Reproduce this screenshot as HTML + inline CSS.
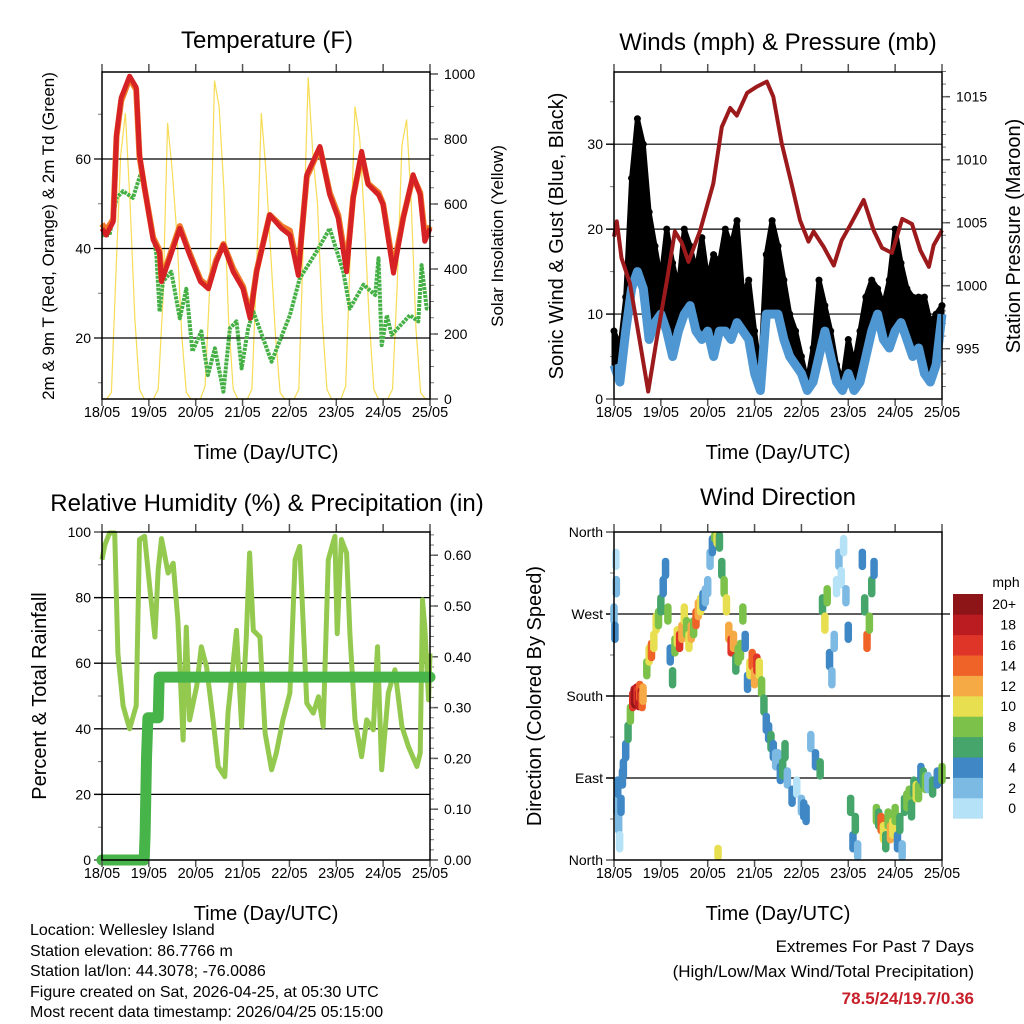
<!DOCTYPE html>
<html><head><meta charset="utf-8">
<style>
html,body{margin:0;padding:0;background:#fff;}
svg{display:block;font-family:"Liberation Sans",Arial,sans-serif;}
</style></head>
<body>
<svg id="chart" width="1024" height="1024" viewBox="0 0 1024 1024" xmlns="http://www.w3.org/2000/svg">
<rect width="1024" height="1024" fill="#fff"/>
<g id="p1"></g>
<g id="p2"></g>
<g id="p3"></g>
<g id="p4"></g>
<g font-size="16" fill="#000">
<text x="30" y="935">Location: Wellesley Island</text>
<text x="30" y="956">Station elevation: 86.7766 m</text>
<text x="30" y="976">Station lat/lon: 44.3078; -76.0086</text>
<text x="30" y="997">Figure created on Sat, 2026-04-25, at 05:30 UTC</text>
<text x="30" y="1017">Most recent data timestamp: 2026/04/25 05:15:00</text>
</g>
<g font-size="17" text-anchor="end">
<text x="974" y="952">Extremes For Past 7 Days</text>
<text x="974" y="977">(High/Low/Max Wind/Total Precipitation)</text>
<text x="974" y="1004" fill="#c8202a" font-weight="bold">78.5/24/19.7/0.36</text>
</g>
</svg>
<script>
// ---------- DATA ----------
const dayLabels=["18/05","19/05","20/05","21/05","22/05","23/05","24/05","25/05"];
// Temperature
const tempT=[0,.09,.24,.31,.41,.59,.73,.8,.91,1.09,1.23,1.27,1.45,1.66,1.87,2.1,2.27,2.44,2.59,2.8,3.01,3.16,3.3,3.58,3.83,4.01,4.19,4.37,4.65,4.86,5.04,5.22,5.36,5.54,5.68,5.9,6.0,6.22,6.43,6.64,6.79,6.89,7.0];
const tempRed=[44.5,43,46,65.4,73.7,78.5,76,61,53.5,42,39,32.6,38,44.5,38.6,32.6,31,37,40.8,34.8,31,24.4,34.8,47.5,44.5,43,34,56.5,62.8,52,46.8,34.8,51.3,61.7,54.3,52,49.8,34.5,46.8,56.5,52,41.6,44.5];
const tempOrange=[45.5,44,46.5,65,73,78,75.5,60.5,53.5,42.5,39.5,33,38.5,45,39,33,31.5,37.5,41,35.5,31.5,25,35,47.5,45,44,35,56,62.5,52.5,47.5,36,51.5,61,54.5,52.5,50,35.5,47,56,52.5,43,45];
const dewT=[0,.16,.31,.45,.66,.84,1.02,1.16,1.23,1.3,1.48,1.66,1.8,1.93,2.12,2.26,2.41,2.59,2.73,2.87,2.98,3.12,3.23,3.62,3.73,4.01,4.22,4.58,4.86,5.15,5.29,5.58,5.83,5.9,5.97,6.08,6.18,6.57,6.75,6.82,6.93,7.0];
const dewVal=[43,43,51.3,52.8,51.3,57.2,47.5,38.6,25.9,32.6,34.8,24.4,31,17,21.5,11.7,17.7,8,22.2,23.7,13.2,22.2,25.9,14.7,17.7,25.1,33.3,39.3,44.5,34.8,26.6,31.9,29.6,37.8,18.4,25.1,20.7,25.1,23.7,36.3,26.6,26.6];
const solarStep=0.1;
const solarVal=[0,0,20,400,750,880,600,250,30,0,
 0,0,30,300,850,700,500,200,20,0,
 0,0,40,350,980,900,650,250,30,0,
 0,0,30,400,880,700,450,200,20,0,
 0,0,30,500,990,750,600,250,30,0,
 0,0,40,450,900,800,550,250,30,0,
 0,0,30,350,780,860,600,220,20,0,0];
// Winds
const windStep=0.125;
const windSpd=[4,2,8,13,15,13,7,9,10,8,5,8,10,11,8,7,8,5,8,8,7,9,8,7,3,1,10,10,10,7,5,4,3,1,2,5,8,5,2,1,3,1,2,5,8,10,7,6,8,9,7,5,6,3,2,4,10];
const gustSpd=[8,6,12,26,33,30,22,18,14,20,16,13,20,18,15,19,14,17,16,20,18,21,12,14,8,3,17,21,18,14,10,8,5,2,6,14,11,8,4,2,7,4,8,12,14,13,11,14,20,16,13,12,12,12,9,10,11];
const presT=[0,.06,.16,.34,.56,.73,.91,1.13,1.3,1.45,1.59,1.84,2.12,2.3,2.48,2.62,2.84,3.05,3.26,3.4,3.58,3.8,3.97,4.15,4.26,4.47,4.69,4.86,5.04,5.33,5.54,5.72,5.93,6.15,6.36,6.54,6.72,6.82,7.0];
const presVal=[1003.9,1005.1,1002.2,1000.2,995.4,991.6,995.7,1000.4,1004.3,1003.4,1001.9,1004.4,1008.1,1012.6,1014.1,1013.5,1015.3,1015.8,1016.2,1015,1011.3,1007.9,1005.2,1003.5,1004.3,1003.1,1001.6,1003.6,1004.8,1006.8,1004.4,1003,1002.6,1005.3,1004.9,1002.8,1001.5,1003.2,1004.4];
// Humidity & precipitation
const rhT=[0,.06,.16,.27,.34,.45,.59,.73,.8,.91,1.02,1.13,1.2,1.27,1.41,1.52,1.62,1.73,1.8,1.87,2.02,2.12,2.23,2.37,2.48,2.62,2.69,2.87,2.98,3.08,3.15,3.23,3.37,3.48,3.62,3.72,3.86,4.01,4.12,4.22,4.37,4.51,4.62,4.72,4.83,4.97,5.02,5.11,5.22,5.29,5.4,5.54,5.65,5.79,5.88,5.97,6.11,6.25,6.4,6.54,6.72,6.79,6.84,6.89,6.97,7.0];
const rhVal=[91.6,96,99.7,99.7,63,47,40,47,97.7,98.7,83,68,88.5,98,87.5,90.5,73,36.6,71,42.7,53,65,59,42.7,28.5,25.4,44.8,70,40.7,68,93.6,70,68,38.7,27.5,32.6,42.7,50.9,91.6,95.6,47.8,44.8,49.8,40.7,91.6,98.7,69,97.7,93.6,69,42.7,31.5,42.7,39.7,65,27.5,50.9,58,40.7,34.6,28.5,32.6,79.3,71,48.8,63];
const precipT=[0,.9,.92,.95,.98,1.2,1.22,7.0];
const precipVal=[0,0,.05,.2,.28,.28,.36,.36];
// Wind direction (time, direction deg, speed mph)
const dirT=[0,.02,.04,.05,.06,.08,.1,.12,.15,.18,.2,.25,.3,.35,.4,.43,.45,.48,.5,.53,.55,.58,.6,.62,.7,.75,.8,.85,.9,.95,1.0,1.05,1.1,1.15,1.2,1.25,1.3,1.35,1.4,1.45,1.5,1.55,1.6,1.65,1.7,1.75,1.8,1.85,1.9,1.95,2.0,2.05,2.1,2.15,2.2,2.22,2.25,2.3,2.35,2.4,2.45,2.5,2.55,2.6,2.65,2.7,2.75,2.8,2.85,2.9,2.95,3.0,3.05,3.1,3.15,3.2,3.25,3.3,3.35,3.4,3.45,3.5,3.55,3.6,3.65,3.7,3.8,3.9,4.0,4.05,4.1,4.2,4.3,4.4,4.45,4.5,4.55,4.6,4.65,4.7,4.75,4.8,4.85,4.9,4.95,5.0,5.05,5.1,5.15,5.2,5.3,5.35,5.4,5.45,5.5,5.55,5.6,5.65,5.7,5.75,5.8,5.85,5.9,5.95,6.0,6.05,6.1,6.15,6.2,6.25,6.3,6.35,6.4,6.45,6.5,6.55,6.6,6.65,6.7,6.8,6.9,7.0];
const dirVal=[270,250,330,300,60,80,40,20,60,90,100,120,140,160,175,180,178,182,180,176,185,178,175,182,210,225,230,240,260,265,280,300,320,270,225,200,235,245,240,250,270,255,240,250,255,265,275,280,285,290,300,330,345,360,355,5,350,320,300,280,250,235,240,215,225,230,270,240,195,210,220,200,215,210,190,170,150,140,130,120,110,110,95,100,120,90,70,80,60,55,50,130,110,100,280,260,290,220,200,240,300,330,310,345,290,250,60,20,40,10,330,280,240,260,300,320,50,45,40,30,20,45,30,35,50,20,40,10,60,65,70,55,80,75,75,95,90,85,85,80,90,95];
const dirSpd=[2,4,0,2,2,4,2,0,4,4,4,4,6,8,16,18,20,18,16,18,14,18,14,12,8,10,14,10,10,8,6,4,4,8,4,6,8,10,16,12,10,8,10,12,8,14,12,10,4,2,2,2,4,8,10,10,6,6,8,10,12,16,12,6,8,8,8,4,4,10,14,12,16,10,8,6,4,4,6,4,2,2,4,6,6,2,4,0,2,4,4,2,4,6,6,10,8,4,2,2,0,2,0,0,2,4,6,4,6,2,4,6,14,8,6,4,8,6,14,10,6,8,12,10,8,4,6,2,6,8,8,6,6,10,8,4,6,8,2,6,4,8];
const speedBins=["0","2","4","6","8","10","12","14","16","18","20+"];
const speedColors=["#b5e2f7","#7cb9e3","#3f87c5","#45a56b","#7bc14a","#e7df4f","#f6aa45","#ef6329","#df3428","#ba1c22","#8d1518"];

// ---------- HELPERS ----------
const NS="http://www.w3.org/2000/svg";
function mk(parent,tag,attrs,text){const e=document.createElementNS(NS,tag);for(const k in attrs)e.setAttribute(k,attrs[k]);if(text!==undefined)e.textContent=text;parent.appendChild(e);return e;}
function axisX(L,R){return t=>L+(R-L)*t/7;}
function axisY(T,B,lo,hi){return v=>B-(B-T)*(v-lo)/(hi-lo);}
function colorFor(s){let i=Math.min(10,Math.max(0,Math.round(s/2)));return speedColors[i];}

function frame(g,L,T,R,B,xs){
  for(let i=0;i<dayLabels.length;i++){
    const x=xs(i);
    let tk=mk(g,"line",{x1:x,y1:B,x2:x,y2:B+7,stroke:"#555","stroke-width":1.5});
    
    let tt=mk(g,"line",{x1:x,y1:T,x2:x,y2:T-8,stroke:"#555","stroke-width":1.5});
    
    let lb=mk(g,"text",{x:x,y:B+18,"font-size":14.5,"text-anchor":"middle"},dayLabels[i]);
    
  }
  let r=mk(g,"rect",{x:L,y:T,width:R-L,height:B-T,fill:"none",stroke:"#000","stroke-width":1.5});
  
  let xt=mk(g,"text",{x:(L+R)/2,y:B+60,"font-size":20,"text-anchor":"middle"},"Time (Day/UTC)");
  
}
function leftAxis(g,L,R,ys,vals,labels,minor,grid){
  vals.forEach((v,i)=>{const y=ys(v);
    if(grid){let gl=mk(g,"line",{x1:L-8,y1:y,x2:R,y2:y,stroke:"#000","stroke-width":1.2});}
    else{let tk=mk(g,"line",{x1:L-8,y1:y,x2:L,y2:y,stroke:"#555","stroke-width":1.5});}
    let t=mk(g,"text",{x:L-11,y:y+5,"font-size":14,"text-anchor":"end"},labels[i]);
    });
  minor.forEach(v=>{const y=ys(v);let m=mk(g,"line",{x1:L-4,y1:y,x2:L,y2:y,stroke:"#777","stroke-width":1});});
}
function rightAxis(g,R,ys,vals,labels,minor){
  vals.forEach((v,i)=>{const y=ys(v);
    let tk=mk(g,"line",{x1:R,y1:y,x2:R+8,y2:y,stroke:"#555","stroke-width":1.5});
    let t=mk(g,"text",{x:R+14,y:y+5,"font-size":14},labels[i]);});
  minor.forEach(v=>{const y=ys(v);let m=mk(g,"line",{x1:R,y1:y,x2:R+4,y2:y,stroke:"#777","stroke-width":1});});
}
function pts(ts,vs,xs,ys){return ts.map((t,i)=>xs(t).toFixed(1)+","+ys(vs[i]).toFixed(1)).join(" ");}
function vlabel(g,x,y,size,txt,name){let t=mk(g,"text",{x:x,y:y,"font-size":size,"text-anchor":"middle",transform:`rotate(-90 ${x} ${y})`},txt);}
function title(g,x,y,txt){let t=mk(g,"text",{x:x,y:y,"font-size":24,"text-anchor":"middle"},txt);}
function range(a,b,s){const r=[];for(let v=a;v<=b+1e-9;v+=s)r.push(+v.toFixed(4));return r;}

// ---------- PANEL 1: Temperature ----------
(function(){
 const g=document.getElementById("p1");const L=102,R=430,T=72,B=399;
 const xs=axisX(L,R);const ys=v=>427.5-4.475*v;const ysol=axisY(74,399,0,1000);
 title(g,267,48,"Temperature (F)");
 const solT=solarVal.map((v,i)=>i*solarStep);
 let s=mk(g,"polyline",{points:pts(solT,solarVal,xs,ysol),fill:"none",stroke:"#f7dc55","stroke-width":1.2});
 
 leftAxis(g,L,R,ys,[20,40,60],["20","40","60"],[10,30,50,70],true);
 rightAxis(g,R,ysol,[0,200,400,600,800,1000],["0","200","400","600","800","1000"],range(50,950,50));
 let d=mk(g,"polyline",{points:pts(dewT,dewVal,xs,ys),fill:"none",stroke:"#45b045","stroke-width":4,"stroke-linejoin":"round","stroke-dasharray":"3 1"});
 
 let o=mk(g,"polyline",{points:pts(tempT,tempOrange,xs,ys),fill:"none",stroke:"#f07a2a","stroke-width":6,"stroke-linejoin":"round"});
 
 let r=mk(g,"polyline",{points:pts(tempT,tempRed,xs,ys),fill:"none",stroke:"#d62224","stroke-width":5,"stroke-linejoin":"round"});
 
 frame(g,L,T,R,B,xs);
 vlabel(g,54,236,17,"2m & 9m T (Red, Orange) & 2m Td (Green)","y-axis-title");
 vlabel(g,503,236,17,"Solar Insolation (Yellow)","right-axis-title");
})();

// ---------- PANEL 2: Winds ----------
(function(){
 const g=document.getElementById("p2");const L=614,R=942,T=72,B=399;
 const xs=axisX(L,R);const ys=axisY(T,B,0,38.5);const yp=v=>96.7+(1015-v)*12.6;
 title(g,778,50,"Winds (mph) & Pressure (mb)");
 leftAxis(g,L,R,ys,[0,10,20,30],["0","10","20","30"],[5,15,25,35],false);
 [10,20,30].forEach(v=>{let gl=mk(g,"line",{x1:L-8,y1:ys(v),x2:R,y2:ys(v),stroke:"#000","stroke-width":1.2});});
 rightAxis(g,R,yp,[995,1000,1005,1010,1015],["995","1000","1005","1010","1015"],range(992,1017,1));
 const wt=windSpd.map((v,i)=>i*windStep);
 const band=wt.map((t,i)=>xs(t).toFixed(1)+","+ys(gustSpd[i]).toFixed(1)).concat(wt.slice().reverse().map((t,k)=>{const i=wt.length-1-k;return xs(t).toFixed(1)+","+ys(windSpd[i]).toFixed(1);})).join(" ");
 let bd=mk(g,"polygon",{points:band,fill:"#000",stroke:"#000","stroke-width":5,"stroke-linejoin":"round"});
 
 wt.forEach((t,i)=>{let c=mk(g,"circle",{cx:xs(t),cy:ys(gustSpd[i]),r:3.5,fill:"#000"});});
 let w=mk(g,"polyline",{points:pts(wt,windSpd,xs,ys),fill:"none",stroke:"#4f97d3","stroke-width":9,"stroke-linejoin":"round"});
 
 let p=mk(g,"polyline",{points:pts(presT,presVal,xs,yp),fill:"none",stroke:"#9c1a1c","stroke-width":4,"stroke-linejoin":"round"});
 
 frame(g,L,T,R,B,xs);
 vlabel(g,563,236,20,"Sonic Wind & Gust (Blue, Black)","y-axis-title");
 vlabel(g,1020,236,20,"Station Pressure (Maroon)","right-axis-title");
})();

// ---------- PANEL 3: Humidity ----------
(function(){
 const g=document.getElementById("p3");const L=102,R=430,T=532,B=860;
 const xs=axisX(L,R);const ys=axisY(T,B,0,100);const yr=v=>B-508*v;
 title(g,267,511,"Relative Humidity (%) & Precipitation (in)");
 leftAxis(g,L,R,ys,[0,20,40,60,80,100],["0","20","40","60","80","100"],[10,30,50,70,90],false);
 [20,40,60,80].forEach(v=>{let gl=mk(g,"line",{x1:L-8,y1:ys(v),x2:R,y2:ys(v),stroke:"#000","stroke-width":1.2});});
 rightAxis(g,R,yr,[0,.1,.2,.3,.4,.5,.6],["0.00","0.10","0.20","0.30","0.40","0.50","0.60"],range(.02,.64,.02));
 let h=mk(g,"polyline",{points:pts(rhT,rhVal,xs,ys),fill:"none",stroke:"#93c94f","stroke-width":5,"stroke-linejoin":"round"});
 
 let pr=mk(g,"polyline",{points:pts(precipT,precipVal,xs,yr),fill:"none",stroke:"#47b449","stroke-width":11,"stroke-linejoin":"round","stroke-linecap":"round"});
 
 frame(g,L,T,R,B,xs);
 vlabel(g,46,696,20,"Percent & Total Rainfall","y-axis-title");
})();

// ---------- PANEL 4: Wind direction ----------
(function(){
 const g=document.getElementById("p4");const L=614,R=942,T=532,B=860;
 const xs=axisX(L,R);const ys=axisY(T,B,0,360);
 title(g,778,505,"Wind Direction");
 leftAxis(g,L,R,ys,[0,90,180,270,360],["North","East","South","West","North"],[45,135,225,315],false);
 [90,180,270].forEach(v=>{let gl=mk(g,"line",{x1:L-8,y1:ys(v),x2:R+8,y2:ys(v),stroke:"#000","stroke-width":1.2});});
 dirT.forEach((t,i)=>{const x=xs(t),y=ys(dirVal[i]);
   let c=mk(g,"line",{x1:x,y1:Math.max(T+3,y-7),x2:x,y2:Math.min(B-3,y+7),stroke:colorFor(dirSpd[i]),"stroke-width":7.5,"stroke-linecap":"round"});
   });
 frame(g,L,T,R,B,xs);
 vlabel(g,541,696,20,"Direction (Colored By Speed)","y-axis-title");
 const lg=mk(g,"g",{});
 let u=mk(lg,"text",{x:1006,y:587,"font-size":14,"text-anchor":"middle"},"mph");
 const bh=20.4;
 speedBins.forEach((lab,i)=>{const y=594+(10-i)*bh;
  let b=mk(lg,"rect",{x:953,y:y,width:30,height:bh+0.3,fill:speedColors[i]});
  let t=mk(lg,"text",{x:1016,y:y+bh/2+5,"font-size":14,"text-anchor":"end"},lab);});
})();
</script>
</body></html>
